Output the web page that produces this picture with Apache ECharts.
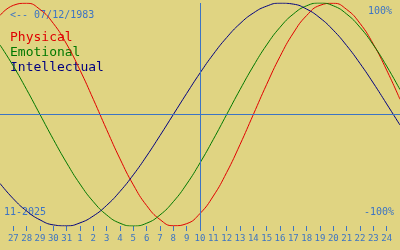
<!DOCTYPE html>
<html><head><meta charset="utf-8">
<script src="https://cdn.jsdelivr.net/npm/echarts@6/dist/echarts.min.js"></script>
<style>html,body{margin:0;padding:0;background:#E0D482;}#c{width:400px;height:250px;}</style>
</head><body><div id="c"></div>
<script>
var days = ['26','27','28','29','30','31','1','2','3','4','5','6','7','8','9','10','11','12','13','14','15','16','17','18','19','20','21','22','23','24','25'];
var physical = [0.888,0.979,0.998,0.942,0.817,0.631,0.398,0.136,-0.136,-0.398,-0.631,-0.817,-0.942,-0.998,-0.979,-0.888,-0.731,-0.520,-0.270,0.000,0.270,0.520,0.731,0.888,0.979,0.998,0.942,0.817,0.631,0.398,0.136];
var emotional = [0.624,0.434,0.223,0.000,-0.223,-0.434,-0.624,-0.782,-0.901,-0.975,-1.000,-0.975,-0.901,-0.782,-0.624,-0.434,-0.223,0.000,0.223,0.434,0.624,0.782,0.901,0.975,1.000,0.975,0.901,0.782,0.624,0.434,0.223];
var intellectual = [-0.618,-0.756,-0.866,-0.945,-0.990,-0.999,-0.972,-0.910,-0.815,-0.690,-0.541,-0.372,-0.189,0.000,0.189,0.372,0.541,0.690,0.815,0.910,0.972,0.999,0.990,0.945,0.866,0.756,0.618,0.458,0.282,0.095,-0.095];
var todayIndex = 15;
var birthText = '<-- 07/12/1983';
var monthText = '11-2025';
var topText = '100%';
var bottomText = '-100%';
var seriesNames = ['Physical','Emotional','Intellectual'];

var BLUE = '#3c74c4';
var FONT = '"DejaVu Sans Mono", monospace';
var chart = echarts.init(document.getElementById('c'), null, {renderer:'canvas'});
function showIdx(i){ return i > 0 && i < days.length - 1; }
chart.setOption({
  backgroundColor: '#E0D482',
  animation: false,
  grid: {left: 0, right: 0, top: 3, bottom: 24},
  xAxis: {
    type: 'category', data: days, boundaryGap: false,
    axisLine: {show: false, onZero: false},
    axisTick: {show: true, length: 5, interval: function(i){return showIdx(i);}, lineStyle: {color: BLUE, width: 1}},
    axisLabel: {interval: function(i){return showIdx(i);}, color: BLUE, fontFamily: FONT, fontSize: 9, margin: 8},
    splitLine: {show: false}
  },
  yAxis: {type: 'value', min: -1, max: 1, show: false},
  series: [
    {name: seriesNames[0], type: 'line', data: physical, smooth: true, symbol: 'none', lineStyle: {color: '#e00000', width: 1},
     markLine: {silent: true, symbol: 'none', label: {show: false}, lineStyle: {color: BLUE, width: 1, type: 'solid'},
       data: [{yAxis: 0}, {xAxis: todayIndex}]}},
    {name: seriesNames[1], type: 'line', data: emotional, smooth: true, symbol: 'none', lineStyle: {color: '#007800', width: 1}},
    {name: seriesNames[2], type: 'line', data: intellectual, smooth: true, symbol: 'none', lineStyle: {color: '#000080', width: 1}}
  ],
  graphic: [
    {type: 'text', left: 10, top: 10, style: {text: birthText, fill: BLUE, font: '10px ' + FONT}},
    {type: 'text', left: 10, top: 31, style: {text: seriesNames[0], fill: '#e00000', font: '13px ' + FONT}},
    {type: 'text', left: 10, top: 46, style: {text: seriesNames[1], fill: '#007800', font: '13px ' + FONT}},
    {type: 'text', left: 10, top: 61, style: {text: seriesNames[2], fill: '#000080', font: '13px ' + FONT}},
    {type: 'text', right: 8, top: 6, style: {text: topText, fill: BLUE, font: '10px ' + FONT}},
    {type: 'text', right: 6, top: 207, style: {text: bottomText, fill: BLUE, font: '10px ' + FONT}},
    {type: 'text', left: 4, top: 207, style: {text: monthText, fill: BLUE, font: '10px ' + FONT}}
  ]
});
</script></body></html>
